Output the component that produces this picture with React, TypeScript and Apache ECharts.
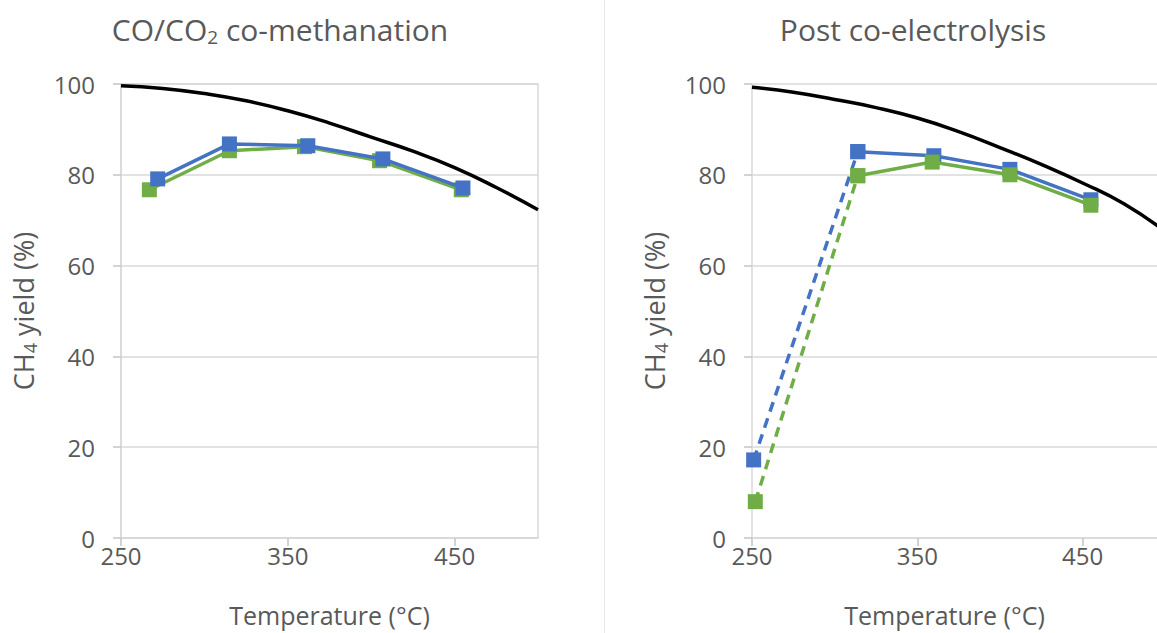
import React, { useEffect, useRef } from "react";
import * as echarts from "echarts";

const FONT = "'Open Sans', sans-serif";
const TEXT = "#595959";
const GRID = "#d9d9d9";
const TICK = "#c4c4c4";
const BLUE = "#4472C4";
const GREEN = "#70AD47";

const T_MIN = 250;
const T_MAX_LEFT = 500;
const T_MAX_RIGHT = 495; // the right panel is cut by the picture's edge

const curveTemps = [250, 275, 300, 325, 350, 375, 400, 425, 450, 475, 500];
const eqLeft = [99.6, 99.0, 97.9, 96.3, 94.1, 91.4, 88.3, 85.2, 81.6, 77.2, 72.3];
const eqRight = [99.3, 98.2, 96.6, 94.8, 92.5, 89.5, 86.0, 82.3, 78.2, 73.6, 67.5];

// CO/CO2 co-methanation
const leftBlueT = [272, 315, 362, 407, 455];
const leftBlueY = [79.1, 86.8, 86.4, 83.5, 77.1];
const leftGreenT = [267, 315, 360, 405, 454];
const leftGreenY = [76.7, 85.3, 86.2, 83.1, 76.7];

// Post co-electrolysis
const rightBlueT = [251, 314, 360, 406, 455];
const rightBlueY = [17.2, 85.1, 84.2, 81.2, 74.5];
const rightGreenT = [252, 314, 359, 406, 455];
const rightGreenY = [8.0, 79.8, 82.8, 80.0, 73.3];

const titles = ["{a|CO/CO}{s|2}{a| co-methanation}", "{a|Post co-electrolysis}"];
const yName = "{a|CH}{s|4}{a| yield (%)}";
const xName = "Temperature (°C)";

// x axis counts degrees above T_MIN so that its ticks fall on 250, 350, 450
const pairs = (xs: number[], ys: number[]) => xs.map((x, i) => [x - T_MIN, ys[i]]);

export default function App() {
  const ref = useRef<HTMLDivElement>(null);
  useEffect(() => {
    if (!ref.current) return;
    const chart = echarts.init(ref.current, null, { renderer: "svg" });

    const xAxis = (gridIndex: number, tMax: number, namePad: number[]) => ({
      type: "value",
      gridIndex,
      position: "bottom",
      min: 0,
      max: tMax - T_MIN,
      interval: 100,
      name: xName,
      nameLocation: "middle",
      nameGap: 64,
      nameTextStyle: { fontFamily: FONT, fontSize: 25, color: TEXT, padding: namePad },
      axisLine: { show: true, onZero: false, lineStyle: { color: GRID, width: 1.5 } },
      axisTick: { show: true, inside: false, length: 8, lineStyle: { color: TICK, width: 1.5 } },
      axisLabel: {
        fontFamily: FONT,
        fontSize: 24,
        color: TEXT,
        margin: 5,
        showMaxLabel: false,
        formatter: (v: number) => String(v + T_MIN),
      },
      splitLine: { show: false },
    });
    const yAxis = (gridIndex: number) => ({
      type: "value",
      gridIndex,
      position: "left",
      min: 0,
      max: 100,
      interval: 20,
      name: yName,
      nameLocation: "middle",
      nameRotate: 90,
      nameGap: 82,
      nameTextStyle: {
        color: TEXT,
        rich: {
          a: { fontFamily: FONT, fontSize: 27, color: TEXT },
          s: { fontFamily: FONT, fontSize: 18, color: TEXT, padding: [14, 0, 0, 0] },
        },
      },
      axisLine: { show: true, onZero: false, lineStyle: { color: GRID, width: 1.5 } },
      axisTick: { show: true, inside: false, length: 8, lineStyle: { color: TICK, width: 1.5 } },
      axisLabel: { fontFamily: FONT, fontSize: 24, color: TEXT, margin: 26 },
      splitLine: { show: true, lineStyle: { color: GRID, width: 1.5 } },
    });

    const curve = (idx: number, ys: number[]) => ({
      type: "line",
      xAxisIndex: idx,
      yAxisIndex: idx,
      data: pairs(curveTemps, ys),
      smooth: true,
      showSymbol: false,
      symbol: "none",
      clip: true,
      lineStyle: { color: "#000", width: 3.5 },
      z: 1,
    });
    const marks = (idx: number, data: number[][], color: string, dashed = false, z = 2) => ({
      type: "line",
      xAxisIndex: idx,
      yAxisIndex: idx,
      data,
      symbol: "rect",
      symbolSize: 15,
      showSymbol: true,
      itemStyle: { color },
      lineStyle: { color, width: 3.5, type: dashed ? [10, 7] : "solid" },
      z,
    });

    const lb = pairs(leftBlueT, leftBlueY);
    const lg = pairs(leftGreenT, leftGreenY);
    const rb = pairs(rightBlueT, rightBlueY);
    const rg = pairs(rightGreenT, rightGreenY);

    const titleRich = {
      a: { fontFamily: FONT, fontSize: 30, fill: TEXT },
      s: { fontFamily: FONT, fontSize: 19, fill: TEXT, padding: [16, 0, 0, 0] },
    };

    chart.setOption({
      animation: false,
      backgroundColor: "#ffffff",
      grid: [
        { left: 121, top: 84, width: 417, height: 454, show: true, borderColor: GRID, borderWidth: 1.5 },
        { left: 752, top: 84, width: 405, height: 454, show: false },
      ],
      xAxis: [xAxis(0, T_MAX_LEFT, [0, 0, 0, 0]), xAxis(1, T_MAX_RIGHT, [0, 20, 0, 0])],
      yAxis: [yAxis(0), yAxis(1)],
      graphic: [
        {
          type: "text",
          x: 280,
          y: 29,
          style: { text: titles[0], align: "center", verticalAlign: "middle", rich: titleRich },
        },
        {
          type: "text",
          x: 913,
          y: 29,
          style: { text: titles[1], align: "center", verticalAlign: "middle", rich: titleRich },
        },
        {
          type: "line",
          shape: { x1: 604.5, y1: 0, x2: 604.5, y2: 633 },
          style: { stroke: "#e6e6e6", lineWidth: 1 },
        },
      ],
      series: [
        curve(0, eqLeft),
        marks(0, lg, GREEN),
        marks(0, lb, BLUE, false, 3),
        curve(1, eqRight),
        marks(1, rb.slice(0, 2), BLUE, true),
        marks(1, rb.slice(1), BLUE),
        marks(1, rg.slice(0, 2), GREEN, true, 3),
        marks(1, rg.slice(1), GREEN, false, 3),
      ],
    });
    return () => chart.dispose();
  }, []);
  return (
    <div
      style={{ position: "fixed", left: 0, top: 0, width: 1157, height: 633, overflow: "hidden", background: "#fff" }}
    >
      <div ref={ref} style={{ width: 1157, height: 633 }} />
    </div>
  );
}
